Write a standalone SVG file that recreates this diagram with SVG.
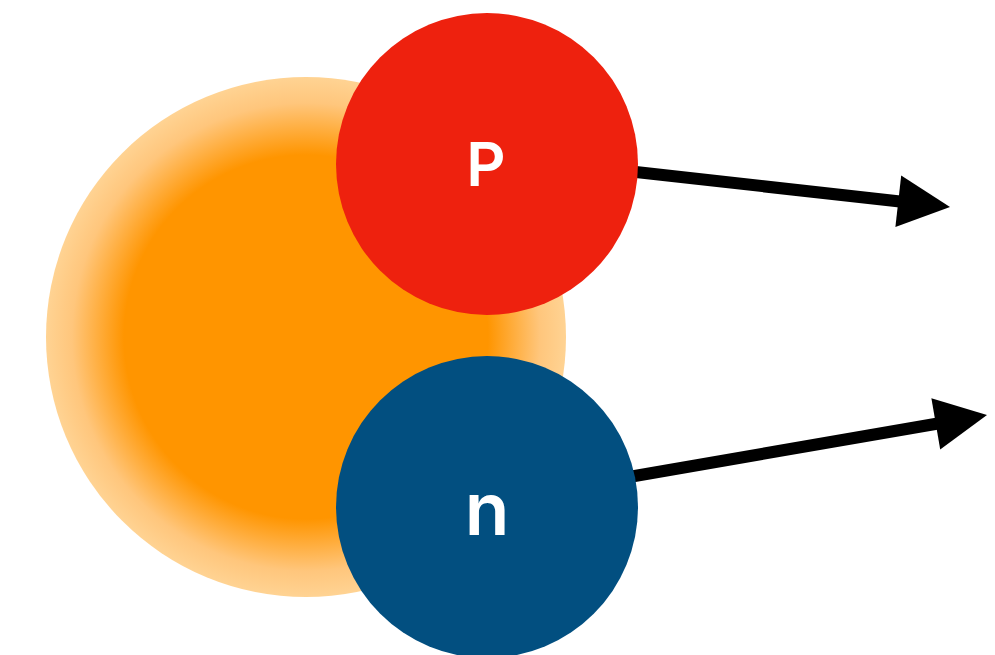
<svg xmlns="http://www.w3.org/2000/svg" width="995" height="655" viewBox="0 0 995 655">
  <defs>
    <radialGradient id="nucleusGlow" cx="0.5" cy="0.5" r="0.5">
      <stop offset="0" stop-color="#FF9500"/>
      <stop offset="0.7" stop-color="#FF9500"/>
      <stop offset="0.9" stop-color="#FFC67C"/>
      <stop offset="1" stop-color="#FFD393"/>
    </radialGradient>
  </defs>
  <style>
    .shaft { stroke: #000; stroke-width: 12; fill: none; }
    .head { fill: #000; }
    .label { fill: #fff; font-family: Inter, "Liberation Sans", sans-serif; font-weight: 600; text-anchor: middle; }
  </style>

  <g id="nucleus">
    <circle cx="306" cy="337" r="260" fill="url(#nucleusGlow)"/>
  </g>

  <g id="connectors">
    <line class="shaft" x1="600" y1="168" x2="900" y2="201.5"/>
    <polygon class="head" points="950,207 895.4,227 901.2,175.4"/>
    <line class="shaft" x1="600" y1="482" x2="938" y2="423.5"/>
    <polygon class="head" points="987,415 940.2,449.5 931.4,398.3"/>
  </g>

  <g id="proton">
    <circle cx="487" cy="164" r="151" fill="#EE210E"/>
    <text class="label" x="486" y="186" font-size="61">P</text>
  </g>

  <g id="neutron">
    <circle cx="487" cy="507" r="151" fill="#024F80"/>
    <text class="label" x="487" y="535" font-size="73">n</text>
  </g>
</svg>
